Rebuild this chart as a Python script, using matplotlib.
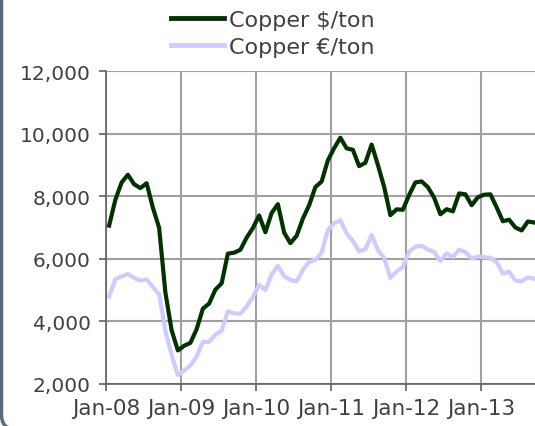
import matplotlib
matplotlib.use('Agg')
import matplotlib.pyplot as plt
from matplotlib.patches import FancyBboxPatch
import numpy as np

# monthly copper prices, Jan-08 .. Sep-13
usd = [7061, 7888, 8439, 8685, 8383, 8260, 8414, 7634, 6991, 4926, 3717, 3072,
       3221, 3315, 3750, 4407, 4569, 5014, 5216, 6165, 6196, 6288, 6676, 6982,
       7386, 6848, 7463, 7745, 6838, 6499, 6735, 7284, 7709, 8292, 8470, 9147,
       9533, 9867, 9530, 9483, 8960, 9067, 9650, 9001, 8300, 7394, 7581, 7566,
       8040, 8441, 8471, 8289, 7955, 7423, 7584, 7516, 8088, 8062, 7711, 7966,
       8047, 8060, 7646, 7200, 7249, 7000, 6907, 7193, 7160]
eur = [4797, 5349, 5435, 5514, 5389, 5311, 5335, 5098, 4865, 3698, 2919, 2284,
       2433, 2593, 2874, 3341, 3347, 3577, 3702, 4321, 4255, 4244, 4476, 4778,
       5175, 5004, 5500, 5777, 5442, 5323, 5274, 5649, 5900, 5966, 6200, 6919,
       7136, 7229, 6808, 6566, 6244, 6302, 6765, 6276, 6028, 5395, 5592, 5741,
       6230, 6383, 6417, 6298, 6220, 5926, 6172, 6061, 6291, 6214, 6011, 6072,
       6056, 6033, 5898, 5527, 5584, 5307, 5281, 5404, 5364]
year_labels = ['Jan-08', 'Jan-09', 'Jan-10', 'Jan-11', 'Jan-12', 'Jan-13']
y_ticks = [2000, 4000, 6000, 8000, 10000, 12000]

txt = '#404040'
grid_c = '#a0a0a0'

fig = plt.figure(figsize=(5.35, 4.27), dpi=100)
ax = fig.add_axes([106/535, 1 - 385/427, 1 - 106/535, (385 - 72)/427])

months = np.arange(len(usd)) + 0.5
ax.plot(months, usd, color='#013301', lw=3.0, solid_joinstyle='round',
        label='Copper $/ton', zorder=3)
ax.plot(months, eur, color='#ccccff', lw=3.0, solid_joinstyle='round',
        label='Copper \u20ac/ton', zorder=2)

ax.set_xlim(0, 68.64)
ax.set_ylim(2000, 12000)
ax.set_xticks(np.arange(len(year_labels)) * 12)
ax.set_xticklabels(year_labels)
ax.set_yticks(y_ticks)
ax.set_yticklabels(['{:,}'.format(v) for v in y_ticks])

ax.grid(True, color=grid_c, lw=1.5)
ax.set_axisbelow(True)
for s in ('top', 'right'):
    ax.spines[s].set_visible(False)
for s in ('left', 'bottom'):
    ax.spines[s].set_color('#606060')
    ax.spines[s].set_linewidth(1.2)
ax.tick_params(axis='both', colors='#606060', labelcolor=txt, labelsize=14.5,
               length=5, width=1.2)
ax.tick_params(axis='x', labelsize=15.5, pad=5)
ax.tick_params(axis='y', pad=6)

leg = fig.legend(loc='upper left', bbox_to_anchor=(160/535, 1.0), frameon=False,
                 fontsize=16, handlelength=2.4, handletextpad=0.2,
                 labelspacing=0.3, borderaxespad=0.1)
for t in leg.get_texts():
    t.set_color(txt)
for h in leg.get_lines():
    h.set_linewidth(3.5)

# chart frame edge along the left side, rounded at the bottom
frame = FancyBboxPatch((1.5, -3), 800, 800, boxstyle='round,pad=0,rounding_size=14',
                       transform=None, fill=False, edgecolor='#5b6a82', lw=2.5)
fig.add_artist(frame)

fig.savefig('out.png', dpi=100)
